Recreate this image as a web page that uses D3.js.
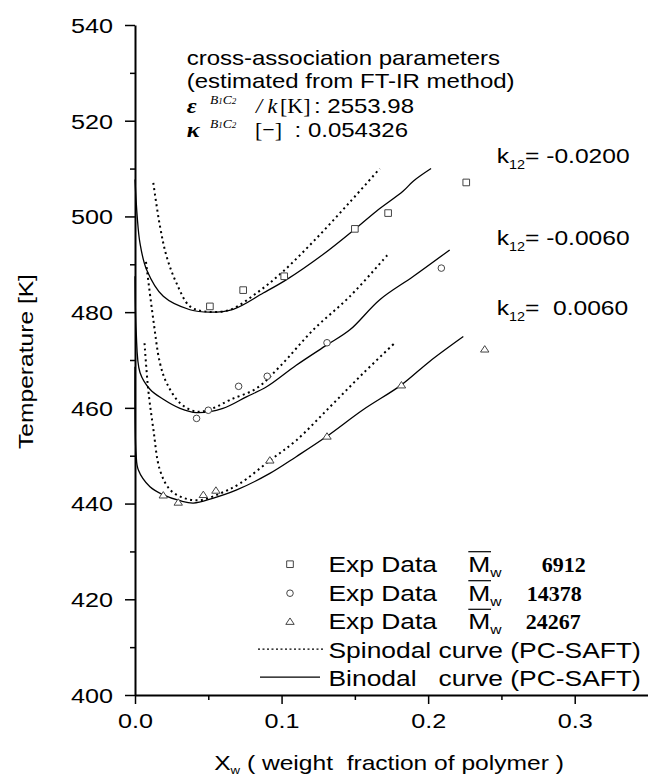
<!DOCTYPE html>
<html>
<head>
<meta charset="utf-8">
<script src="https://cdn.jsdelivr.net/npm/d3@7"></script>
<style>
  body { margin: 0; background: #fff; }
  svg { display: block; }
  text { white-space: pre; }
</style>
</head>
<body>
<svg id="chart" width="648" height="777"></svg>
<script>
// values
const tempTicks = [400, 420, 440, 460, 480, 500, 520, 540]
const tempMinor = [410, 430, 450, 470, 490, 510, 530]
const xwTicks = [0, 0.1, 0.2, 0.3]
const xwMinor = [0.05, 0.15, 0.25]

// exp data, Mw 6912 / 14378 / 24267
const exp6912X = [0.0511, 0.0738, 0.1018, 0.150, 0.1727, 0.226]
const exp6912T = [481.2, 484.6, 487.5, 497.4, 500.7, 507.1]
const exp14378X = [0.042, 0.050, 0.0707, 0.0902, 0.131, 0.209]
const exp14378T = [457.8, 459.5, 464.5, 466.6, 473.6, 489.2]
const exp24267X = [0.0193, 0.0295, 0.0466, 0.0552, 0.092, 0.131, 0.1818, 0.2386]
const exp24267T = [441.7, 440.2, 441.8, 442.7, 449.0, 454.0, 464.7, 472.2]

// binodal (solid) and spinodal (dotted), k12 = -0.0200 / -0.0060 / 0.0060
const bin1X = [0, 0.0015, 0.0034, 0.008, 0.0193, 0.0375, 0.051, 0.067, 0.0875, 0.1034, 0.128, 0.151, 0.1647, 0.183, 0.19, 0.202]
const bin1T = [507.7, 500, 494.4, 488.8, 483.3, 480.5, 480, 480.6, 484, 486.8, 492, 497.6, 501.1, 505.3, 507.4, 510]
const spin1X = [0.0125, 0.017, 0.0216, 0.0284, 0.0375, 0.049, 0.0648, 0.083, 0.101, 0.124, 0.1466, 0.167]
const spin1T = [507, 498, 491.6, 486, 481.2, 480.1, 480.5, 484, 488.5, 495.5, 503, 510]

const bin2X = [0, 0.0008, 0.0034, 0.0102, 0.0193, 0.0307, 0.042, 0.060, 0.076, 0.0898, 0.110, 0.1307, 0.1466, 0.167, 0.19, 0.2147]
const bin2T = [487.5, 476, 467.4, 463.9, 461.8, 459.9, 459, 459.9, 462.3, 464.4, 468.9, 473.1, 476.3, 482.6, 487.5, 493]
const spin2X = [0.0075, 0.0125, 0.017, 0.0216, 0.0307, 0.042, 0.053, 0.065, 0.083, 0.099, 0.1216, 0.1466, 0.1727]
const spin2T = [490.5, 478.4, 469.4, 465.2, 461, 459.2, 459.9, 461.7, 464.1, 468.7, 476.3, 483.3, 492.1]

const bin3X = [0, 0.0007, 0.0023, 0.0102, 0.0193, 0.0307, 0.0398, 0.053, 0.069, 0.092, 0.110, 0.1307, 0.1556, 0.1818, 0.201, 0.224]
const bin3T = [468.6, 450.5, 447, 443.5, 441.8, 440.6, 440.1, 441.1, 442.8, 446.3, 449.8, 454, 459.6, 464.8, 469.7, 474.9]
const spin3X = [0.0065, 0.009, 0.0125, 0.017, 0.0239, 0.033, 0.0443, 0.058, 0.0716, 0.092, 0.110, 0.133, 0.1556, 0.178]
const spin3T = [473.5, 463.9, 455.6, 447, 442.9, 441.2, 440.7, 442.1, 444.2, 449, 453.2, 460.2, 467.2, 473.8]

const k12Labels = ['-0.0200', '-0.0060', ' 0.0060']
const legendMw = ['6912', '14378', '24267']

const SANS = '"Liberation Sans", Arial, sans-serif'
const SERIF = '"Liberation Serif", "Times New Roman", serif'
const SX = 1.2   // the original sans face is wide

const svg = d3.select('#chart')

const x = d3.scaleLinear().domain([0, 0.35]).range([135, 648])
const y = d3.scaleLinear().domain([400, 540]).range([695, 25])

const label = (px, py, str, o = {}) => {
    let tr = `translate(${px},${py})`
    if (o.rotate) tr += ` rotate(${o.rotate})`
    tr += ` scale(${o.sx ?? SX},1)`
    const t = svg.append('text')
        .attr('transform', tr)
        .attr('font-family', o.family || SANS)
        .attr('font-size', o.size || 20.5)
        .attr('fill', '#000')
    if (o.anchor) t.attr('text-anchor', o.anchor)
    if (o.weight) t.attr('font-weight', o.weight)
    if (o.italic) t.attr('font-style', 'italic')
    if (str != null) t.text(str)
    return t
}

// axes
const yAxis = svg.append('g').attr('transform', `translate(${x(0)},0)`)
    .call(d3.axisLeft(y).tickValues(tempTicks).tickSize(10).tickSizeOuter(0).tickFormat(d3.format('d')))
const yMinor = svg.append('g').attr('transform', `translate(${x(0)},0)`)
    .call(d3.axisLeft(y).tickValues(tempMinor).tickSize(5).tickFormat(''))
yMinor.select('.domain').remove()

const xAxis = svg.append('g').attr('transform', `translate(0,${y(400)})`)
    .call(d3.axisBottom(x).tickValues(xwTicks).tickSize(9).tickSizeOuter(0).tickFormat(d3.format('.1f')))
const xMinor = svg.append('g').attr('transform', `translate(0,${y(400)})`)
    .call(d3.axisBottom(x).tickValues(xwMinor).tickSize(5).tickFormat(''))
xMinor.select('.domain').remove()

;[yAxis, xAxis].forEach(g => {
    g.select('.domain').attr('stroke-width', 2)
    g.selectAll('text').attr('font-family', SANS).attr('font-size', 21).attr('fill', '#000')
        .attr('transform', `scale(${SX},1)`)
})
;[yAxis, yMinor, xAxis, xMinor].forEach(g => g.selectAll('.tick line').attr('stroke-width', 1.5))
yAxis.selectAll('text').attr('x', -22 / SX).attr('dy', '0.35em')
xAxis.selectAll('text').attr('y', 33).attr('dy', null)

// curves
const line = d3.line().x(d => x(d[0])).y(d => y(d[1])).curve(d3.curveCatmullRom.alpha(0.5))
const curves = [
    [bin1X, bin1T, false], [spin1X, spin1T, true],
    [bin2X, bin2T, false], [spin2X, spin2T, true],
    [bin3X, bin3T, false], [spin3X, spin3T, true]
]
curves.forEach(([xs, ts, dotted]) => {
    svg.append('path')
        .datum(d3.zip(xs, ts))
        .attr('d', line)
        .attr('fill', 'none')
        .attr('stroke', '#000')
        .attr('stroke-width', dotted ? 2 : 1.3)
        .attr('stroke-dasharray', dotted ? '2,3.4' : null)
})

// markers
const flatTriangle = {
    draw(ctx) {
        const w = 4.2, h = 6.4
        ctx.moveTo(0, -h * 0.6)
        ctx.lineTo(w, h * 0.4)
        ctx.lineTo(-w, h * 0.4)
        ctx.closePath()
    }
}
const squareSym = d3.symbol(d3.symbolSquare, 44)
const circleSym = d3.symbol(d3.symbolCircle, 34)
const triSym = d3.symbol(flatTriangle, 30)

const sets = [
    [exp6912X, exp6912T, squareSym],
    [exp14378X, exp14378T, circleSym],
    [exp24267X, exp24267T, triSym]
]
sets.forEach(([xs, ts, sym]) => {
    svg.append('g').selectAll('path')
        .data(d3.zip(xs, ts))
        .join('path')
        .attr('transform', d => `translate(${x(d[0])},${y(d[1])})`)
        .attr('d', sym)
        .attr('fill', '#fff')
        .attr('stroke', '#444')
        .attr('stroke-width', 1)
})

// axis titles
label(33, 361.5, 'Temperature [K]', { rotate: -90, anchor: 'middle' })
const xt = label(389, 770, 'X', { anchor: 'middle' })
xt.append('tspan').attr('font-size', 11).attr('dy', 4).text('w')
xt.append('tspan').attr('dy', -4).text(' ( weight  fraction of polymer )')

// annotation
label(186.7, 65, 'cross-association parameters', { size: 20 })
label(186.7, 88.3, '(estimated from FT-IR method)', { size: 20 })

const sup = (px, py) => {
    const t = label(px, py, null, { family: SERIF, italic: true, size: 13.5, sx: 1 })
    t.append('tspan').text('B')
    t.append('tspan').attr('font-size', 9).text('1')
    t.append('tspan').text('C')
    t.append('tspan').attr('font-size', 9).text('2')
}
label(186.7, 112.7, 'ε', { family: SERIF, italic: true, weight: 'bold', size: 21, sx: 1.15 })
sup(210, 103.5)
label(256, 112.7, '/ k', { family: SERIF, italic: true, size: 22, sx: 1 })
label(280, 112.7, '[K]', { family: SERIF, size: 22, sx: 1 })
label(314, 112.7, ': 2553.98', { size: 20 })

label(186.7, 136.7, 'κ', { family: SERIF, italic: true, weight: 'bold', size: 21, sx: 1.15 })
sup(210, 127.5)
label(255, 136.7, '[−]', { family: SERIF, size: 22, sx: 1 })
label(294.6, 136.7, ': 0.054326', { size: 20 })

// k12 labels
const k12Y = [163.3, 245, 315]
k12Labels.forEach((v, i) => {
    const t = label(496.7, k12Y[i], 'k')
    t.append('tspan').attr('font-size', 12).attr('dy', 6).text('12')
    t.append('tspan').attr('dy', -6).text('= ' + v)
})

// legend
const rowY = [571.7, 600.7, 629.3, 657.7, 685.7]
const legSyms = [squareSym, circleSym, triSym]
const mwX = [541.7, 526.7, 525.7]
legSyms.forEach((sym, i) => {
    svg.append('path')
        .attr('transform', `translate(290,${rowY[i] - 7.5})`)
        .attr('d', sym)
        .attr('fill', '#fff')
        .attr('stroke', '#444')
        .attr('stroke-width', 1)
    label(328.5, rowY[i], 'Exp Data', { size: 22 })
    const m = label(468.3, rowY[i], 'M', { size: 22 })
    m.append('tspan').attr('font-size', 13).attr('dy', 5).text('w')
    svg.append('line')
        .attr('x1', 468.3).attr('x2', 491)
        .attr('y1', rowY[i] - 20).attr('y2', rowY[i] - 20)
        .attr('stroke', '#000').attr('stroke-width', 1.2)
    label(mwX[i], rowY[i], legendMw[i], { family: SERIF, weight: 'bold', size: 20, sx: 1.1 })
})
svg.append('line')
    .attr('x1', 258).attr('x2', 325).attr('y1', rowY[3] - 8.5).attr('y2', rowY[3] - 8.5)
    .attr('stroke', '#000').attr('stroke-width', 1.3).attr('stroke-dasharray', '2,2.5')
svg.append('line')
    .attr('x1', 260).attr('x2', 320).attr('y1', rowY[4] - 8.5).attr('y2', rowY[4] - 8.5)
    .attr('stroke', '#000').attr('stroke-width', 1.2)
label(328.5, rowY[3], 'Spinodal curve (PC-SAFT)', { size: 22 })
label(328.5, rowY[4], 'Binodal   curve (PC-SAFT)', { size: 22 })
</script>
</body>
</html>
